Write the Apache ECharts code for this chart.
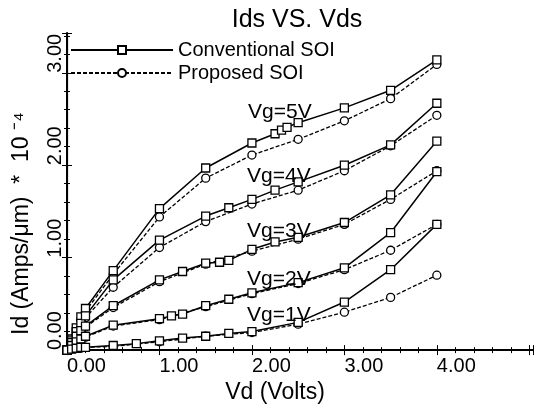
<!DOCTYPE html>
<html><head><meta charset="utf-8">
<script src="https://cdn.jsdelivr.net/npm/echarts@6/dist/echarts.min.js"></script>
<style>html,body{margin:0;padding:0;background:#fff}#c{width:537px;height:409px}</style>
</head><body><div id="c"></div>
<script>
// ---- data (Vd in volts, Id in Amps/um * 1e-4) ----
const titleText = 'Ids VS. Vds';
const xName = 'Vd (Volts)';
const yName = 'Id (Amps/μm)  *  10 ⁻⁴';
const xTicks = ['0.00', '1.00', '2.00', '3.00', '4.00'];
const yTicks = ['0.00', '1.00', '2.00', '3.00'];
const gateLabels = ['Vg=5V', 'Vg=4V', 'Vg=3V', 'Vg=2V', 'Vg=1V'];

const convVd5 = [0, 0.05, 0.1, 0.15, 0.2, 0.5, 1.0, 1.5, 2.0, 2.25, 2.32, 2.38, 2.5, 3.0, 3.5, 4.0];
const convId5 = [0, 0.12, 0.24, 0.36, 0.45, 0.86, 1.53, 1.97, 2.24, 2.34, 2.38, 2.41, 2.46, 2.62, 2.81, 3.14];
const convVd4 = [0, 0.05, 0.1, 0.15, 0.2, 0.5, 1.0, 1.5, 1.75, 2.0, 2.25, 2.5, 3.0, 3.5, 4.0];
const convId4 = [0, 0.10, 0.20, 0.29, 0.37, 0.76, 1.19, 1.45, 1.54, 1.63, 1.73, 1.82, 2.00, 2.22, 2.67];
const convVd3 = [0, 0.05, 0.1, 0.15, 0.2, 0.5, 1.0, 1.25, 1.5, 1.65, 1.75, 2.0, 2.25, 2.5, 3.0, 3.5, 4.0];
const convId3 = [0, 0.08, 0.15, 0.21, 0.26, 0.48, 0.76, 0.85, 0.94, 0.95, 0.97, 1.09, 1.17, 1.22, 1.38, 1.68, 2.26];
const convVd2 = [0, 0.05, 0.1, 0.15, 0.2, 0.5, 1.0, 1.13, 1.25, 1.5, 1.75, 2.0, 2.5, 3.0, 3.5, 4.0];
const convId2 = [0, 0.05, 0.09, 0.12, 0.15, 0.27, 0.34, 0.37, 0.39, 0.48, 0.55, 0.62, 0.73, 0.89, 1.27, 1.93];
const convVd1 = [0, 0.05, 0.1, 0.15, 0.2, 0.5, 0.75, 1.0, 1.25, 1.5, 1.75, 2.0, 2.5, 3.0, 3.5, 4.0];
const convId1 = [0, 0.01, 0.02, 0.03, 0.03, 0.05, 0.07, 0.10, 0.13, 0.15, 0.18, 0.20, 0.30, 0.52, 0.87, 1.36];

const propVd = [0, 0.05, 0.1, 0.15, 0.2, 0.5, 1.0, 1.5, 2.0, 2.5, 3.0, 3.5, 4.0];
const propId5 = [0, 0.11, 0.22, 0.33, 0.42, 0.82, 1.44, 1.86, 2.11, 2.28, 2.48, 2.72, 3.09];
const propId4 = [0, 0.09, 0.18, 0.27, 0.35, 0.68, 1.11, 1.39, 1.58, 1.73, 1.94, 2.21, 2.54];
const propId3 = [0, 0.07, 0.14, 0.20, 0.25, 0.46, 0.74, 0.93, 1.07, 1.20, 1.36, 1.63, 1.94];
const propId2 = [0, 0.04, 0.08, 0.11, 0.14, 0.26, 0.33, 0.47, 0.61, 0.72, 0.87, 1.08, 1.36];
const propId1 = [0, 0.01, 0.02, 0.02, 0.03, 0.04, 0.09, 0.15, 0.19, 0.28, 0.41, 0.57, 0.81];

const FONT = '"Liberation Sans", Arial, sans-serif';
const zip = (xs, ys) => xs.map((x, i) => [x, ys[i]]);

const convSets = [[convVd5, convId5], [convVd4, convId4], [convVd3, convId3], [convVd2, convId2], [convVd1, convId1]];
const propSets = [propId5, propId4, propId3, propId2, propId1];

const series = [];
convSets.forEach(([xs, ys]) => series.push({
  name: 'Conventional SOI', type: 'line', data: zip(xs, ys),
  symbol: 'rect', symbolSize: 8, z: 3,
  lineStyle: { color: '#000', width: 1.5, type: 'solid' },
  itemStyle: { color: '#fff', borderColor: '#000', borderWidth: 1.3 }
}));
propSets.forEach(ys => series.push({
  name: 'Proposed SOI', type: 'line', data: zip(propVd, ys),
  symbol: 'circle', symbolSize: 8, z: 2,
  lineStyle: { color: '#000', width: 1.3, type: [4, 2] },
  itemStyle: { color: '#fff', borderColor: '#000', borderWidth: 1.3 }
}));

const chart = echarts.init(document.getElementById('c'), null, { renderer: 'canvas' });
const labelPos = [[282, 114], [281, 178], [281, 233], [281, 281], [281, 317]];

chart.setOption({
  animation: false,
  backgroundColor: '#fff',
  title: {
    text: titleText, left: 292, top: 3, textAlign: 'center',
    textStyle: { fontFamily: FONT, fontSize: 25, fontWeight: 'normal', color: '#000' }
  },
  legend: {
    orient: 'vertical', left: 70, top: 40, padding: 0, itemWidth: 102, itemHeight: 10, itemGap: 3,
    data: ['Conventional SOI', 'Proposed SOI'],
    textStyle: { fontFamily: FONT, fontSize: 20, color: '#000', padding: [0, 0, 0, 0] }
  },
  grid: { left: 67, right: 4, top: 33, bottom: 52, containLabel: false },
  xAxis: [{
    type: 'value', min: 0, max: 5.04, interval: 1,
    name: xName, nameLocation: 'middle', nameGap: 28,
    nameTextStyle: { fontFamily: FONT, fontSize: 23, color: '#000', padding: [0, 50, 0, 0] },
    axisLine: { lineStyle: { color: '#000', width: 2 } },
    axisTick: { inside: true, length: 5, lineStyle: { color: '#000' } },
    minorTick: { show: true, splitNumber: 5, length: 3, lineStyle: { color: '#000' } },
    splitLine: { show: false },
    axisLabel: {
      fontFamily: FONT, fontSize: 20, color: '#000', align: 'left', margin: 6,
      formatter: v => xTicks[Math.round(v)] !== undefined && Math.abs(v - Math.round(v)) < 1e-6 ? xTicks[Math.round(v)] : ''
    }
  }, {
    type: 'value', position: 'top', min: 0, max: 5.04, interval: 1,
    axisLine: { lineStyle: { color: '#000', width: 1.2 } },
    axisTick: { inside: true, length: 5, lineStyle: { color: '#000' } },
    minorTick: { show: true, splitNumber: 5, length: 3, lineStyle: { color: '#000' } },
    axisLabel: { show: false }, splitLine: { show: false }
  }],
  yAxis: [{
    type: 'value', min: 0, max: 3.43, interval: 1,
    name: yName, nameLocation: 'middle', nameGap: 34, nameRotate: 90,
    nameTextStyle: { fontFamily: FONT, fontSize: 23, color: '#000', padding: [0, 64, 0, 0] },
    axisLine: { lineStyle: { color: '#000', width: 2 } },
    axisTick: { inside: true, length: 5, lineStyle: { color: '#000' } },
    minorTick: { show: true, splitNumber: 5, length: 3, lineStyle: { color: '#000' } },
    splitLine: { show: false },
    axisLabel: {
      fontFamily: FONT, fontSize: 20, color: '#000', rotate: 90, align: 'left', verticalAlign: 'bottom', margin: 2,
      formatter: v => yTicks[Math.round(v)] !== undefined && Math.abs(v - Math.round(v)) < 1e-6 ? yTicks[Math.round(v)] : ''
    }
  }, {
    type: 'value', position: 'right', min: 0, max: 3.43, interval: 1,
    axisLine: { lineStyle: { color: '#000', width: 1.2 } },
    axisTick: { inside: true, length: 5, lineStyle: { color: '#000' } },
    minorTick: { show: true, splitNumber: 5, length: 3, lineStyle: { color: '#000' } },
    axisLabel: { show: false }, splitLine: { show: false }
  }],
  graphic: gateLabels.map((t, i) => ({
    type: 'text', left: labelPos[i][0] - 34, top: labelPos[i][1] - 12, z: 10,
    style: { text: t, font: '21px ' + FONT, fill: '#000' }
  })),
  series: series
});
</script></body></html>
